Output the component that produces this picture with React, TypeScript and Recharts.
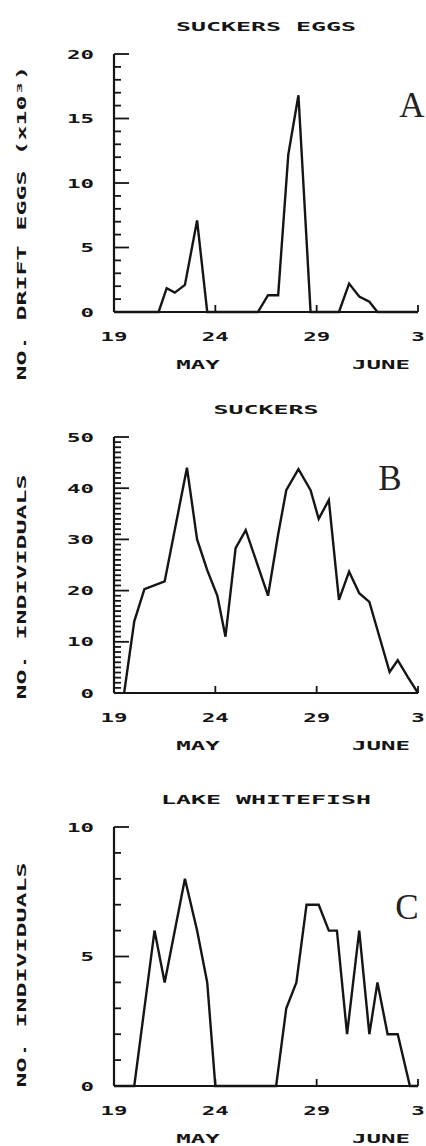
import { LineChart, Line, XAxis, YAxis } from 'recharts';

// days counted from 19 May (34 = 3 June)
const eggDays = [19, 21.2, 21.6, 22, 22.5, 23.1, 23.6, 26.1, 26.6, 27.1, 27.6, 28.1, 28.7, 30.1, 30.6, 31.1, 31.6, 32, 34];
const eggValues = [0, 0, 1.85, 1.5, 2.1, 7.1, 0, 0, 1.3, 1.3, 12.2, 16.8, 0, 0, 2.2, 1.2, 0.8, 0, 0];

const suckerDays = [19.5, 20, 20.5, 21.5, 22.6, 23.1, 23.6, 24.1, 24.5, 25, 25.5, 26.6, 27.1, 27.5, 28.1, 28.7, 29.1, 29.6, 30.1, 30.6, 31.1, 31.6, 32, 32.6, 33, 33.5, 34];
const suckerValues = [0, 14, 20.3, 21.8, 44, 30, 24, 19, 11, 28.3, 31.8, 19, 31, 39.6, 43.7, 39.6, 34, 37.7, 18.2, 23.7, 19.5, 17.8, 12.3, 4.1, 6.4, 3.1, 0];

const whitefishDays = [19, 20, 20.5, 21, 21.5, 22.5, 23.1, 23.6, 24, 27, 27.5, 28, 28.5, 29.1, 29.6, 30, 30.5, 31.1, 31.6, 32, 32.5, 33, 33.6, 34];
const whitefishValues = [0, 0, 3, 6, 4, 8, 6, 4, 0, 0, 3, 4, 7, 7, 6, 6, 2, 6, 2, 4, 2, 2, 0, 0];

const dayTicks = [19, 24, 29, 34];
const dayLabels = ['19', '24', '29', '3'];
const monthLabels = ['MAY', 'JUNE'];

const INK = '#151515';

// plotter style lettering: monospace glyphs stretched sideways to a fixed pitch
const PlotText = ({ x, y, text, size = 13, pitch = 15, anchor = 'middle', rotate = false }: any) => {
  const sx = pitch / (size * 0.602);
  return (
    <g transform={`translate(${x} ${y})${rotate ? ' rotate(-90)' : ''} scale(${sx.toFixed(3)} 1)`}>
      <text
        x={0}
        y={0}
        textAnchor={anchor}
        fontFamily="'DejaVu Sans Mono', monospace"
        fontWeight="bold"
        fontSize={size}
        fill={INK}
      >
        {text}
      </text>
    </g>
  );
};

const YTick = ({ x, y, payload, major }: any) => {
  const v = payload.value;
  const isMajor = v % major === 0;
  return (
    <g>
      <line x1={x} x2={x + (isMajor ? 15 : 7)} y1={y} y2={y} stroke={INK} strokeWidth={1.8} />
      {isMajor && <PlotText x={x - 20} y={y + 4.5} text={String(v)} anchor="end" size={12.5} pitch={13.5} />}
    </g>
  );
};

const XTick = ({ x, y, payload }: any) => {
  const i = dayTicks.indexOf(payload.value);
  return (
    <g>
      {i > 0 && <line x1={x} x2={x} y1={y} y2={y - 7} stroke={INK} strokeWidth={1.8} />}
      <PlotText x={x} y={y + 29} text={dayLabels[i]} size={12.5} pitch={13.5} />
    </g>
  );
};

type PanelProps = {
  top: number;
  height: number;
  plotTop: number;
  plotBottom: number;
  days: number[];
  values: number[];
  yMax: number;
  major: number;
  title: string;
  letter: string;
  letterX: number;
  letterY: number;
  yLabel: string;
  yLabelY: number;
};

const Panel = (p: PanelProps) => {
  const rows = p.days.map((d, i) => ({ day: d, v: p.values[i] }));
  const yTicks = Array.from({ length: p.yMax + 1 }, (_, i) => i);
  return (
    <div style={{ position: 'absolute', left: 0, top: p.top }}>
      <LineChart width={426} height={p.height} data={rows} margin={{ top: p.plotTop, right: 8, left: 0, bottom: 0 }}>
        <XAxis
          type="number"
          dataKey="day"
          domain={[19, 34]}
          ticks={dayTicks}
          interval={0}
          height={p.height - p.plotBottom}
          tickSize={0}
          tickMargin={0}
          tickLine={false}
          tick={(t: any) => <XTick {...t} />}
          axisLine={{ stroke: INK, strokeWidth: 2.2 }}
        />
        <YAxis
          type="number"
          domain={[0, p.yMax]}
          ticks={yTicks}
          interval={0}
          width={114}
          tickSize={0}
          tickMargin={0}
          tickLine={false}
          tick={(t: any) => <YTick {...t} major={p.major} />}
          axisLine={{ stroke: INK, strokeWidth: 2.2 }}
        />
        <Line type="linear" dataKey="v" stroke={INK} strokeWidth={2.4} dot={false} isAnimationActive={false} />
        <PlotText x={266} y={p.plotTop - 23} text={p.title} />
        <PlotText x={198} y={p.plotBottom + 57} text={monthLabels[0]} pitch={14.5} />
        <PlotText x={381} y={p.plotBottom + 57} text={monthLabels[1]} pitch={14.5} />
        <PlotText x={26} y={p.yLabelY} text={p.yLabel} rotate />
        <text x={p.letterX} y={p.letterY} textAnchor="middle" fontFamily="'Liberation Serif', serif" fontSize={35} fill="#222">
          {p.letter}
        </text>
      </LineChart>
    </div>
  );
};

export default function App() {
  return (
    <div style={{ position: 'absolute', left: 0, top: 0, width: 426, height: 1146, background: '#fff' }}>
      <Panel top={0} height={380} plotTop={54} plotBottom={312} days={eggDays} values={eggValues}
        yMax={20} major={5} title="SUCKERS EGGS" letter="A" letterX={412} letterY={117}
        yLabel="NO. DRIFT EGGS (x10³)" yLabelY={223} />
      <Panel top={380} height={380} plotTop={57} plotBottom={313} days={suckerDays} values={suckerValues}
        yMax={50} major={10} title="SUCKERS" letter="B" letterX={390} letterY={110}
        yLabel="NO. INDIVIDUALS" yLabelY={207} />
      <Panel top={760} height={386} plotTop={67} plotBottom={326} days={whitefishDays} values={whitefishValues}
        yMax={10} major={5} title="LAKE WHITEFISH" letter="C" letterX={407} letterY={159}
        yLabel="NO. INDIVIDUALS" yLabelY={215} />
    </div>
  );
}
